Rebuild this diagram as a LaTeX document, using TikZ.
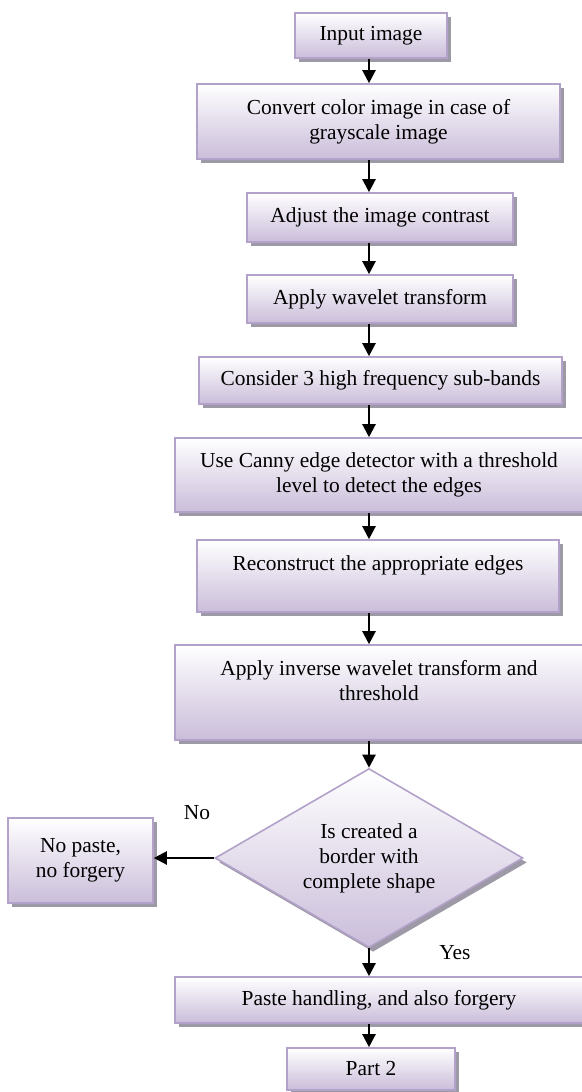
\documentclass[tikz,border=0pt]{standalone}
\usepackage{fontspec}
\setmainfont{Liberation Serif}
\usetikzlibrary{positioning}
\usetikzlibrary{shapes.geometric}
\usetikzlibrary{shadows}
\usetikzlibrary{arrows.meta}

\definecolor{boxline}{RGB}{178,161,200}
\definecolor{boxfill}{RGB}{202,189,218}
\definecolor{boxshade}{RGB}{158,153,166}

\begin{document}
\begin{tikzpicture}[x=0.5pt, y=-0.5pt,
    every node/.style={font=\fontsize{10.7}{12.5}\selectfont},
    stepbox/.style={rectangle, draw=boxline, line width=0.8pt, top color=white, bottom color=boxfill,
        align=center, inner sep=0pt,
        drop shadow={shadow xshift=2pt, shadow yshift=-2.2pt, fill=boxshade, opacity=1}},
    decision/.style={diamond, aspect=1.72, draw=boxline, line width=0.8pt, top color=white, bottom color=boxfill,
        align=center, inner sep=0pt,
        drop shadow={shadow xshift=2pt, shadow yshift=-2.2pt, fill=boxshade, opacity=1}},
    flow/.style={-{Triangle[length=6.5pt,width=6.5pt]}, line width=1.1pt, black}]

            \useasboundingbox (0, 0) rectangle (582, 1092);

            \node[stepbox, minimum width=76pt, minimum height=22.5pt] (input) at (371, 35.5) {Input image};
            \node[stepbox, minimum width=181.5pt, minimum height=37.5pt] (gray) at (378.5, 121.5) {Convert color image in case of\\grayscale image};
            \node[stepbox, minimum width=133pt, minimum height=24.5pt] (contrast) at (380, 217.5) {Adjust the image contrast};
            \node[stepbox, minimum width=133pt, minimum height=24pt] (wavelet) at (380, 299) {Apply wavelet transform};
            \node[stepbox, minimum width=181.5pt, minimum height=23.5pt] (subbands) at (380.5, 380.5) {Consider 3 high frequency sub-bands};
            \node[stepbox, minimum width=204pt, minimum height=37pt] (canny) at (379, 475) {Use Canny edge detector with a threshold\\level to detect the edges};
            \node[stepbox, minimum width=181pt, minimum height=36pt] (rebuild) at (378, 576) {Reconstruct the appropriate edges\\~};
            \node[stepbox, minimum width=204pt, minimum height=47.5pt] (inverse) at (379, 692.5) {Apply inverse wavelet transform and\\threshold\\~};
            \node[decision, minimum width=154pt, minimum height=89.5pt] (border) at (369, 858) {Is created a\\border with\\complete shape};
            \node[stepbox, minimum width=72.5pt, minimum height=42.5pt] (nopaste) at (80.5, 860.5) {No paste,\\no forgery};
            \node[stepbox, minimum width=204pt, minimum height=23pt] (paste) at (379, 1000) {Paste handling, and also forgery};
            \node[stepbox, minimum width=84pt, minimum height=21pt] (part) at (371, 1069) {Part 2};

            \node (no) at (197, 813) {No};
            \node (yes) at (455, 953) {Yes};

            \coordinate (ax) at (369, 0);

            \draw[flow] (input.south -| ax) -- (gray.north -| ax);
            \draw[flow] (gray.south -| ax) -- (contrast.north -| ax);
            \draw[flow] (contrast.south -| ax) -- (wavelet.north -| ax);
            \draw[flow] (wavelet.south -| ax) -- (subbands.north -| ax);
            \draw[flow] (subbands.south -| ax) -- (canny.north -| ax);
            \draw[flow] (canny.south -| ax) -- (rebuild.north -| ax);
            \draw[flow] (rebuild.south -| ax) -- (inverse.north -| ax);
            \draw[flow] (inverse.south -| ax) -- (border.north);
            \draw[flow] (border.west) -- (nopaste.east |- border.west);
            \draw[flow] (border.south) -- (paste.north -| border.south);
            \draw[flow] (paste.south -| ax) -- (part.north -| ax);

          \end{tikzpicture}
\end{document}
